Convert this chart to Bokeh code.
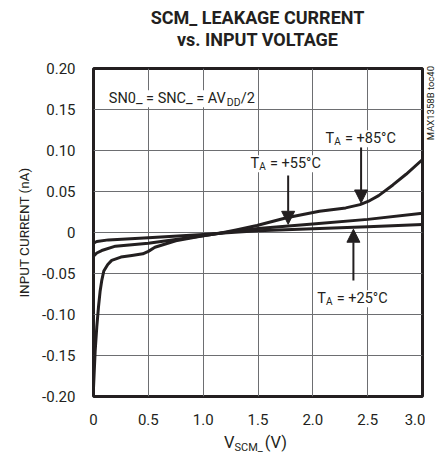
from bokeh.plotting import figure
from bokeh.models import Range1d, FixedTicker, Label, Arrow, NormalHead, Div
from bokeh.layouts import column, row
from bokeh.embed import file_html
from bokeh.resources import INLINE

# ---- data ----
v85 = [0.0, 0.015, 0.03, 0.046, 0.06, 0.076, 0.094, 0.13, 0.166, 0.25, 0.35, 0.45, 0.5, 0.56, 0.75, 1.0, 1.15, 1.3, 1.49, 1.76, 2.06, 2.3, 2.43, 2.52, 2.6, 2.73, 2.85, 3.0]
i85 = [-0.19, -0.145, -0.115, -0.09, -0.072, -0.058, -0.047, -0.039, -0.034, -0.030, -0.028, -0.026, -0.023, -0.018, -0.010, -0.004, -0.001, 0.003, 0.0085, 0.018, 0.026, 0.030, 0.034, 0.039, 0.045, 0.058, 0.071, 0.089]
v55 = [0.0, 0.03, 0.075, 0.2, 0.5, 0.8, 1.0, 1.15, 1.5, 2.0, 2.5, 3.0]
i55 = [-0.029, -0.025, -0.022, -0.0167, -0.013, -0.0075, -0.004, -0.001, 0.005, 0.0105, 0.016, 0.0235]
v25 = [0.0, 0.03, 0.136, 0.5, 1.0, 1.15, 1.5, 2.0, 2.5, 3.0]
i25 = [-0.013, -0.011, -0.009, -0.0065, -0.0025, -0.001, 0.002, 0.0045, 0.007, 0.0098]

x_ticks = [0, 0.5, 1.0, 1.5, 2.0, 2.5, 3.0]
x_tick_labels = ["0", "0.5", "1.0", "1.5", "2.0", "2.5", "3.0"]
y_ticks = [-0.2, -0.15, -0.1, -0.05, 0, 0.05, 0.1, 0.15, 0.2]
y_tick_labels = ["-0.20", "-0.15", "-0.10", "-0.05", "0", "0.05", "0.10", "0.15", "0.20"]

title_lines = ["SCM_ LEAKAGE CURRENT", "vs. INPUT VOLTAGE"]
y_label = "INPUT CURRENT (nA)"
x_label_main, x_label_sub, x_label_unit = "V", "SCM_", "(V)"
side_note = "MAX1358B toc40"

# arrows: (x, y_start, y_end)
arrows = [(2.44, 0.104, 0.036), (1.775, 0.0695, 0.010), (2.37, -0.0585, 0.004)]

FONT = "Roboto"
INK = "#231f20"

p = figure(width=425, height=380, output_backend="svg", toolbar_location=None,
           x_range=Range1d(0, 3), y_range=Range1d(-0.2, 0.2),
           min_border_left=93, min_border_right=3, min_border_top=12, min_border_bottom=40)
p.title.visible = False
p.background_fill_color = "white"
p.border_fill_color = "white"
p.outline_line_color = INK
p.outline_line_width = 3

for ax in (p.xaxis[0], p.yaxis[0]):
    ax.axis_line_color = None
    ax.major_tick_line_color = None
    ax.minor_tick_line_color = None
    ax.major_tick_out = 0
    ax.major_tick_in = 0
    ax.major_label_text_font = FONT
    ax.major_label_text_font_size = "15px"
    ax.major_label_text_color = INK

p.xaxis.ticker = FixedTicker(ticks=x_ticks)
p.yaxis.ticker = FixedTicker(ticks=y_ticks)
p.xaxis.major_label_overrides = {t: l for t, l in zip(x_ticks, x_tick_labels)}
p.yaxis.major_label_overrides = {t: l for t, l in zip(y_ticks, y_tick_labels)}
p.xaxis.major_label_standoff = 17
p.yaxis.major_label_standoff = 18
p.yaxis.axis_label = y_label
p.yaxis.axis_label_text_font = FONT
p.yaxis.axis_label_text_font_size = "13.5px"
p.yaxis.axis_label_text_font_style = "normal"
p.yaxis.axis_label_text_color = INK
p.yaxis.axis_label_standoff = 7

p.xgrid.ticker = FixedTicker(ticks=x_ticks)
p.ygrid.ticker = FixedTicker(ticks=y_ticks)
for g in (p.xgrid[0], p.ygrid[0]):
    g.grid_line_color = "#6d6e71"
    g.grid_line_width = 1

for vs, cs in ((v85, i85), (v55, i55), (v25, i25)):
    p.line(vs, cs, line_color=INK, line_width=3, line_join="round")

for (xa, ys, ye) in arrows:
    p.add_layout(Arrow(x_start=xa, y_start=ys, x_end=xa, y_end=ye, line_color=INK, line_width=2,
                       end=NormalHead(size=13, fill_color=INK, line_color=INK, line_width=1)))

def lab(x, y, text, size, dx=0, dy=0):
    p.add_layout(Label(x=x, y=y, text=text, text_font=FONT, text_font_size=size, text_color=INK,
                       text_align="left", text_baseline="alphabetic", x_offset=dx, y_offset=dy,
                       background_fill_color="white"))

# condition note
lab(0.14, 0.163, "SN0_ = SNC_ = AV", "14.5px")
lab(0.14, 0.163, "DD", "10.5px", dx=118, dy=-3.5)
lab(0.14, 0.163, "/2", "14.5px", dx=132)

# temperature labels
for (tx, ty, t) in ((2.115, 0.1143, "= +85°C"), (1.432, 0.0838, "= +55°C"), (2.040, -0.0809, "= +25°C")):
    lab(tx, ty, "T", "14.5px")
    lab(tx, ty, "A", "10px", dx=8.8, dy=-2.5)
    lab(tx, ty, t, "14.5px", dx=19.5)

common = f"font-family:{FONT};color:{INK};white-space:nowrap;"
title_div = Div(width=441, height=56, margin=0, text=(
    f'<div style="{common}margin-left:93px;width:329px;text-align:center;font-weight:bold;'
    f'font-size:18px;line-height:22.7px;padding-top:6.5px">{title_lines[0]}<br>{title_lines[1]}</div>'))

side_div = Div(width=16, height=380, margin=0, text=(
    f'<div style="{common}writing-mode:vertical-rl;transform:rotate(180deg);font-size:9.5px;'
    f'line-height:12px;margin-top:10px">{side_note}</div>'))

xlabel_div = Div(width=441, height=22, margin=0, text=(
    f'<div style="{common}margin-left:224px;font-size:16.5px;line-height:11px">{x_label_main}'
    f'<span style="font-size:11px;position:relative;top:3px">{x_label_sub}</span>'
    f'<span style="margin-left:2px">{x_label_unit}</span></div>'))

layout = column(title_div, row(p, side_div), xlabel_div)
open("out.html", "w").write(file_html(layout, INLINE))
